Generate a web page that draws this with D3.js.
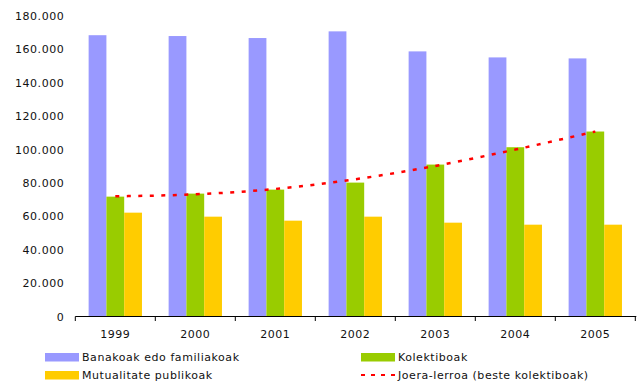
<!DOCTYPE html>
<html><head><meta charset="utf-8">
<script src="https://cdn.jsdelivr.net/npm/d3@7"></script>
<style>
html,body{margin:0;padding:0;background:#fff;}
svg text{font-family:"DejaVu Sans",Verdana,sans-serif;font-size:11px;letter-spacing:0.55px;fill:#111;}
</style></head>
<body>
<svg id="c" width="643" height="390"></svg>
<script>
const years = ["1999","2000","2001","2002","2003","2004","2005"];
const banakoak = [168500, 168000, 166800, 170800, 158800, 155200, 154600];
const kolektiboak = [71800, 73600, 76000, 80200, 91000, 101400, 110800];
const mutualitate = [62200, 59800, 57400, 59800, 56200, 55000, 55000];
const joera = [72000, 73200, 76400, 82200, 90200, 100000, 110800];
const yTicks = [0, 20000, 40000, 60000, 80000, 100000, 120000, 140000, 160000, 180000];
const seriesNames = ["Banakoak edo familiakoak", "Kolektiboak", "Mutualitate publikoak", "Joera-lerroa (beste kolektiboak)"];
const colors = ["#9999FF", "#99CC00", "#FFCC00", "#FF0000"];

const svg = d3.select("#c");
const pL = 75.3, pR = 635.3, pT = 16, pB = 316.5;

const x = d3.scaleBand().domain(years).range([pL, pR]).paddingInner(0).paddingOuter(0);
const y = d3.scaleLinear().domain([0, 180000]).range([pB, pT]);
const inner = d3.scaleBand().domain([0,1,2]).range([x.bandwidth()/6, x.bandwidth()*5/6]);

const fmt = v => v === 0 ? "0" : d3.format(",")(v).replace(/,/g, ".");

// y labels
const yAxis = d3.axisLeft(y).tickValues(yTicks).tickFormat(fmt).tickSize(0).tickPadding(11);
const ya = svg.append("g").attr("transform", `translate(${pL},0)`).call(yAxis);
ya.select(".domain").remove();
ya.attr("font-family", null).attr("font-size", null);

// bars
const series = [banakoak, kolektiboak, mutualitate];
series.forEach((vals, si) => {
  svg.append("g").selectAll("rect").data(vals).join("rect")
    .attr("x", (d, i) => x(years[i]) + inner(si))
    .attr("y", d => y(d))
    .attr("width", inner.bandwidth())
    .attr("height", d => pB - y(d))
    .attr("fill", colors[si]);
});

// trend line
const line = d3.line().x((d, i) => x(years[i]) + x.bandwidth()/2).y(d => y(d)).curve(d3.curveMonotoneX);
svg.append("path").attr("d", line(joera)).attr("fill", "none").attr("stroke", colors[3])
  .attr("stroke-width", 2.5).attr("stroke-dasharray", "4,7.5");

// x axis
const xAxis = d3.axisBottom(x).tickSize(0).tickPadding(14);
const xa = svg.append("g").attr("transform", `translate(0,${pB})`).call(xAxis);
xa.select(".domain").remove();
xa.attr("font-family", null).attr("font-size", null);
svg.append("line").attr("x1", pL).attr("x2", pR + 1).attr("y1", pB).attr("y2", pB)
  .attr("stroke", "#000").attr("stroke-width", 1.2);
const bounds = years.map(yy => x(yy)).concat([pR]);
svg.append("g").selectAll("line").data(bounds).join("line")
  .attr("x1", d => d).attr("x2", d => d).attr("y1", pB).attr("y2", pB + 4.5)
  .attr("stroke", "#000").attr("stroke-width", 1);

// legend
const leg = [
  {i:0, x:45, y:353},
  {i:1, x:361, y:353},
  {i:2, x:45, y:371},
  {i:3, x:361, y:371}
];
leg.forEach(l => {
  const g = svg.append("g");
  if (l.i < 3) {
    g.append("rect").attr("x", l.x).attr("y", l.y).attr("width", 34).attr("height", 8.5).attr("fill", colors[l.i]);
  } else {
    g.append("line").attr("x1", l.x).attr("x2", l.x + 36).attr("y1", l.y + 4).attr("y2", l.y + 4)
      .attr("stroke", colors[3]).attr("stroke-width", 2).attr("stroke-dasharray", "4,6");
  }
  g.append("text").attr("x", l.x + 37).attr("y", l.y + 8).text(seriesNames[l.i]);
});
</script>
</body></html>
